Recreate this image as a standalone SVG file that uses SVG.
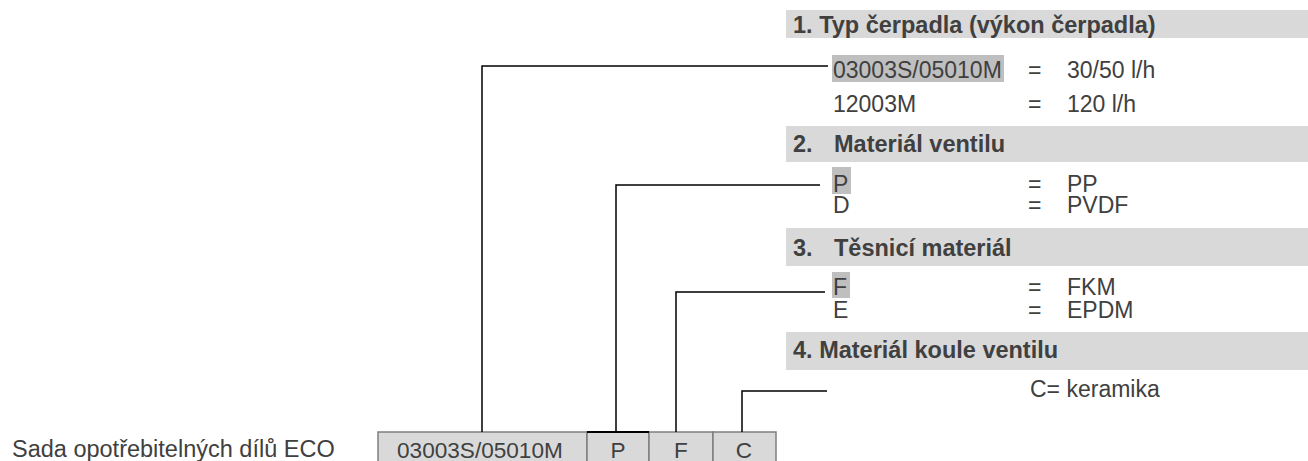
<svg xmlns="http://www.w3.org/2000/svg" width="1308" height="461" viewBox="0 0 1308 461">
<style>
.t{font-family:"Liberation Sans",Arial,sans-serif;font-size:23px;fill:#404040}
.h{font-family:"Liberation Sans",Arial,sans-serif;font-size:23.5px;font-weight:bold;fill:#404040}
.bar{fill:#d9d9d9}
.hl{fill:#bfbfbf}
.box{fill:#d9d9d9;stroke:#7f7f7f;stroke-width:1.5}
.c{fill:none;stroke:#000;stroke-width:1.5}
.bt{font-family:"Liberation Sans",Arial,sans-serif;font-size:22.6px;fill:#404040}
</style>
<rect width="1308" height="461" fill="#fff"/>
<g id="header1"><rect class="bar" x="786" y="10" width="522" height="28"/><text class="h" x="793" y="33">1. Typ čerpadla (výkon čerpadla)</text></g>
<g id="opt1">
<rect class="hl" x="832" y="55" width="172" height="27"/>
<text class="t" x="833" y="78">03003S/05010M</text><text class="t" x="1028" y="78">=</text><text class="t" x="1067" y="78">30/50 l/h</text>
<text class="t" x="833" y="112">12003M</text><text class="t" x="1028" y="112">=</text><text class="t" x="1067" y="112">120 l/h</text>
</g>
<g id="header2"><rect class="bar" x="786" y="126" width="522" height="36"/><text class="h" x="793" y="152">2.</text><text class="h" x="834" y="152">Materiál ventilu</text></g>
<g id="opt2">
<rect class="hl" x="832" y="167" width="19" height="27"/>
<text class="t" x="833" y="192">P</text><text class="t" x="1028" y="192">=</text><text class="t" x="1067" y="192">PP</text>
<text class="t" x="833" y="213">D</text><text class="t" x="1028" y="213">=</text><text class="t" x="1067" y="213">PVDF</text>
</g>
<g id="header3"><rect class="bar" x="786" y="228" width="522" height="38"/><text class="h" x="793" y="256">3.</text><text class="h" x="834" y="256">Těsnicí materiál</text></g>
<g id="opt3">
<rect class="hl" x="832" y="272" width="18" height="26"/>
<text class="t" x="833" y="295">F</text><text class="t" x="1028" y="295">=</text><text class="t" x="1067" y="295">FKM</text>
<text class="t" x="833" y="318">E</text><text class="t" x="1028" y="318">=</text><text class="t" x="1067" y="318">EPDM</text>
</g>
<g id="header4"><rect class="bar" x="786" y="332" width="522" height="38"/><text class="h" x="793" y="358">4. Materiál koule ventilu</text></g>
<g id="opt4"><text class="t" x="1030" y="397">C= keramika</text></g>
<g id="label"><text class="t" x="12" y="457" style="font-size:23.5px">Sada opotřebitelných dílů ECO</text></g>
<g id="code">
<rect class="box" x="378" y="432" width="209" height="40"/>
<rect class="box" x="587" y="432" width="62" height="40"/>
<rect class="box" x="649" y="432" width="64" height="40"/>
<rect class="box" x="713" y="432" width="63" height="40"/>
<line x1="587" y1="432" x2="649" y2="432" stroke="#000" stroke-width="2"/>
<text class="bt" x="397" y="458">03003S/05010M</text>
<text class="bt" x="618" y="458" text-anchor="middle">P</text>
<text class="bt" x="681" y="458" text-anchor="middle">F</text>
<text class="bt" x="744" y="458" text-anchor="middle">C</text>
</g>
<g id="connectors">
<polyline class="c" points="482,432 482,66 828,66"/>
<polyline class="c" points="616,432 616,185 820,185"/>
<polyline class="c" points="676,432 676,292 825,292"/>
<polyline class="c" points="742,432 742,391 827,391"/>
</g>
</svg>
